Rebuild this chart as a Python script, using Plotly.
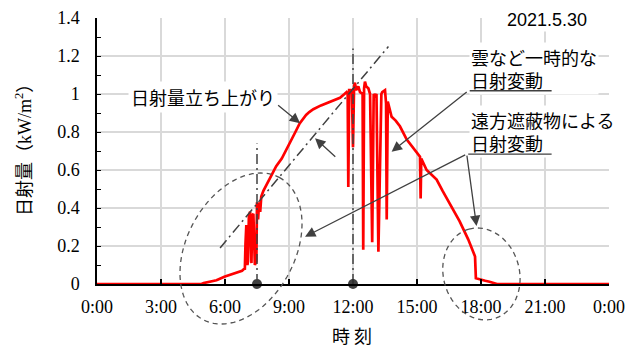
import math
import plotly.graph_objects as go

# ---------------- data ----------------
hours = [0.0, 4.9, 5.0, 5.3, 5.6, 6.0, 6.3, 6.6, 6.8, 6.9, 6.93, 6.96, 7.0, 7.05, 7.08,
         7.12, 7.18, 7.24, 7.28, 7.33, 7.4, 7.47, 7.5, 7.55, 7.6, 7.65, 7.7, 7.8, 8.0,
         8.2, 8.4, 8.66, 8.9, 9.13, 9.3, 9.5, 9.65, 9.8, 9.95, 10.14, 10.5, 10.92, 11.2,
         11.39, 11.6,
         11.7, 11.75, 11.78, 11.82, 11.9, 11.95, 12.0, 12.05, 12.09, 12.15, 12.25,
         12.33, 12.45, 12.48, 12.52, 12.56, 12.62, 12.72, 12.8, 12.9, 12.97, 13.03,
         13.1, 13.19, 13.27, 13.33, 13.37, 13.5, 13.55, 13.58, 13.63, 13.7, 13.81,
         14.0, 14.2, 14.52, 14.8, 15.1, 15.14, 15.17, 15.2, 15.45, 15.92, 16.2, 16.55,
         17.0, 17.4, 17.72, 17.76, 18.0, 18.2, 18.4, 18.66, 18.75, 24.0]
irradiance = [0.0, 0.0, 0.005, 0.012, 0.02, 0.04, 0.05, 0.06, 0.07, 0.08, 0.075, 0.21,
              0.31, 0.10, 0.12, 0.36, 0.38, 0.11, 0.36, 0.37, 0.10, 0.12, 0.43, 0.34,
              0.43, 0.38, 0.46, 0.49, 0.535, 0.58, 0.62, 0.66, 0.71, 0.76, 0.80, 0.845,
              0.87, 0.89, 0.905, 0.92, 0.94, 0.96, 0.975,
              0.98, 1.0, 1.01, 1.0, 0.51, 1.02, 1.02, 1.0, 0.72,
              1.04, 1.06, 1.02, 1.04, 1.01, 1.0, 0.18, 1.03, 1.065, 1.04, 1.03, 1.0, 0.22,
              1.0, 0.99, 1.0, 0.17, 0.67, 1.0, 1.01, 1.02, 0.95, 0.34, 0.96, 0.93, 0.88,
              0.86, 0.83, 0.76, 0.72, 0.675, 0.67, 0.45, 0.66, 0.60, 0.55, 0.49, 0.42,
              0.33, 0.235, 0.145, 0.03, 0.025, 0.017, 0.012, 0.003, 0.0, 0.0]

x_tick_values = [0, 3, 6, 9, 12, 15, 18, 21, 24]
x_tick_labels = ["0:00", "3:00", "6:00", "9:00", "12:00", "15:00", "18:00", "21:00", "0:00"]
y_tick_values = [0, 0.2, 0.4, 0.6, 0.8, 1.0, 1.2, 1.4]
y_tick_labels = ["0", "0.2", "0.4", "0.6", "0.8", "1", "1.2", "1.4"]

marker_hours = [7.5, 12.0]
marker_values = [0.0, 0.0]

date_label = "2021.5.30"
label_rise = "日射量立ち上がり"
label_cloud = "雲など一時的な<br>日射変動"
label_far = "遠方遮蔽物による<br>日射変動"

# ---------------- layout geometry ----------------
# the page body adds an 8px offset, so margins are reduced by 8px
W, H = 640, 350
BODY = 8
REF_L, REF_T = 97, 18          # plot origin in the screenshot
PW, PH = 512, 266
ML, MT = REF_L - BODY, REF_T - BODY
MR, MB = W - ML - PW, H - MT - PH
X_RANGE = [0, 24]
Y_RANGE = [0, 1.4]

GRAY = "#404040"
CJK = "Noto Sans CJK JP"
SERIF = "Liberation Serif"

fig = go.Figure()
fig.add_trace(go.Scatter(x=hours, y=irradiance, mode="lines",
                         line=dict(color="#ff0000", width=2.7), showlegend=False,
                         hoverinfo="skip"))
fig.add_trace(go.Scatter(x=marker_hours, y=marker_values, mode="markers",
                         marker=dict(color=GRAY, size=10), cliponaxis=False,
                         showlegend=False, hoverinfo="skip"))


def to_paper(t, v, dx_px=0.0, dy_px=0.0):
    xp = (t - X_RANGE[0]) / (X_RANGE[1] - X_RANGE[0]) + dx_px / PW
    yp = (v - Y_RANGE[0]) / (Y_RANGE[1] - Y_RANGE[0]) - dy_px / PH
    return xp, yp


def ellipse_path(ct, cv, a_px, b_px, phi_deg, lean, n=90):
    phi = math.radians(phi_deg)
    ux, uy = lean * math.sin(phi), -math.cos(phi)
    vx, vy = math.cos(phi), lean * math.sin(phi)
    pts = []
    for i in range(n):
        s = 2 * math.pi * i / n
        dx = a_px * math.cos(s) * ux + b_px * math.sin(s) * vx
        dy = a_px * math.cos(s) * uy + b_px * math.sin(s) * vy
        xp, yp = to_paper(ct, cv, dx, dy)
        pts.append(f"{xp:.5f},{yp:.5f}")
    return "M" + " L".join(pts) + " Z"


# dashed ellipses (paper refs so they are not clipped)
for ct, cv, a, b, phi, lean in [(6.75, 0.187, 80.7, 54, 28.3, 1),
                                (18.02, 0.053, 46.5, 38, 15.5, -1)]:
    fig.add_shape(type="path", xref="paper", yref="paper",
                  path=ellipse_path(ct, cv, a, b, phi, lean),
                  line=dict(color="#555555", width=1.3, dash="5px,4px"), layer="above")

# dash-dot guide lines
dashdot = "10px,4px,2px,4px"
fig.add_shape(type="line", xref="x", yref="y", x0=7.5, x1=7.5, y0=0, y1=0.74,
              line=dict(color=GRAY, width=1.5, dash=dashdot))
fig.add_shape(type="line", xref="x", yref="y", x0=12, x1=12, y0=0, y1=1.24,
              line=dict(color=GRAY, width=1.5, dash=dashdot))
fig.add_shape(type="line", xref="x", yref="y", x0=5.77, x1=13.66, y0=0.19, y1=1.25,
              line=dict(color=GRAY, width=1.5, dash=dashdot))

annotations = []
# text labels with white background
annotations.append(dict(x=4.97, y=0.984, xref="x", yref="y", text=label_rise, showarrow=False,
                        font=dict(family=CJK, size=18, color="#000"), bgcolor="white",
                        borderpad=2, xanchor="center", yanchor="middle"))
annotations.append(dict(x=17.44, y=1.132, xref="x", yref="y", text=label_cloud, showarrow=False,
                        font=dict(family=CJK, size=18, color="#000"), bgcolor="white",
                        align="left", borderpad=1, xanchor="left", yanchor="middle"))
annotations.append(dict(x=17.44, y=0.801, xref="x", yref="y", text=label_far, showarrow=False,
                        font=dict(family=CJK, size=18, color="#000"), bgcolor="white",
                        align="left", borderpad=1, xanchor="left", yanchor="middle"))
annotations.append(dict(x=21.09, y=1.392, xref="x", yref="y",
                        text="\u00a0\u00a0\u00a0" + date_label + "\u00a0\u00a0\u00a0",
                        showarrow=False, font=dict(family="Liberation Sans", size=18, color="#000"),
                        bgcolor="white", borderpad=1, xanchor="center", yanchor="middle"))

# arrows / leader lines  (head_t, head_v, tail_t, tail_v, has_head)
arrows = [(9.52, 0.846, 8.42, 0.947, True),
          (10.22, 0.767, 11.24, 0.662, True),
          (13.81, 0.696, 17.40, 1.017, True),
          (21.31, 1.017, 17.40, 1.017, False),
          (9.75, 0.249, 17.33, 0.684, True),
          (17.79, 0.305, 17.33, 0.684, True),
          (21.31, 0.684, 17.33, 0.684, False)]
for ht, hv, tt, tv, head in arrows:
    annotations.append(dict(x=ht, y=hv, ax=tt, ay=tv, xref="x", yref="y", axref="x", ayref="y",
                            text="", showarrow=True, arrowhead=2 if head else 0,
                            arrowsize=1.6, arrowwidth=1.3, arrowcolor=GRAY, standoff=0))

# axis titles as annotations (positions measured in screenshot pixels)
annotations.append(dict(x=(23 - REF_L) / PW, y=(REF_T + PH - 146) / PH, xref="paper", yref="paper",
                        text="日射量（kW/m<sup>2</sup>）", textangle=-90, showarrow=False,
                        font=dict(family=f"{SERIF}, {CJK}", size=18, color="#000"),
                        xanchor="center", yanchor="middle"))
annotations.append(dict(x=(352 - REF_L) / PW, y=(REF_T + PH - 335) / PH, xref="paper", yref="paper",
                        text="時 刻", showarrow=False,
                        font=dict(family=CJK, size=18, color="#000"),
                        xanchor="center", yanchor="middle"))

fig.update_layout(
    width=W, height=H,
    margin=dict(l=ML, r=MR, t=MT, b=MB, pad=0),
    paper_bgcolor="white", plot_bgcolor="white",
    annotations=annotations,
    xaxis=dict(range=X_RANGE, tickmode="array", tickvals=x_tick_values, ticktext=x_tick_labels,
               showgrid=True, gridcolor="#d9d9d9", gridwidth=1.5, zeroline=False,
               showline=True, linecolor="#000", linewidth=1.5,
               ticks="inside", ticklen=5, tickwidth=1.5, tickcolor="#000",
               tickfont=dict(family=SERIF, size=18, color="#000"), ticklabelstandoff=6,
               automargin=False, fixedrange=True),
    yaxis=dict(range=Y_RANGE, tickmode="array", tickvals=y_tick_values, ticktext=y_tick_labels,
               showgrid=True, gridcolor="#d9d9d9", gridwidth=1.5, zeroline=False,
               showline=True, linecolor="#000", linewidth=1.5,
               ticks="inside", ticklen=4, tickwidth=1.2, tickcolor="#000",
               minor=dict(ticks="inside", dtick=0.1, tick0=0, ticklen=4, tickcolor="#000",
                          tickwidth=1.2, showgrid=False),
               tickfont=dict(family=SERIF, size=18, color="#000"), ticklabelstandoff=12,
               automargin=False, fixedrange=True),
)

fig.write_html("out.html")
